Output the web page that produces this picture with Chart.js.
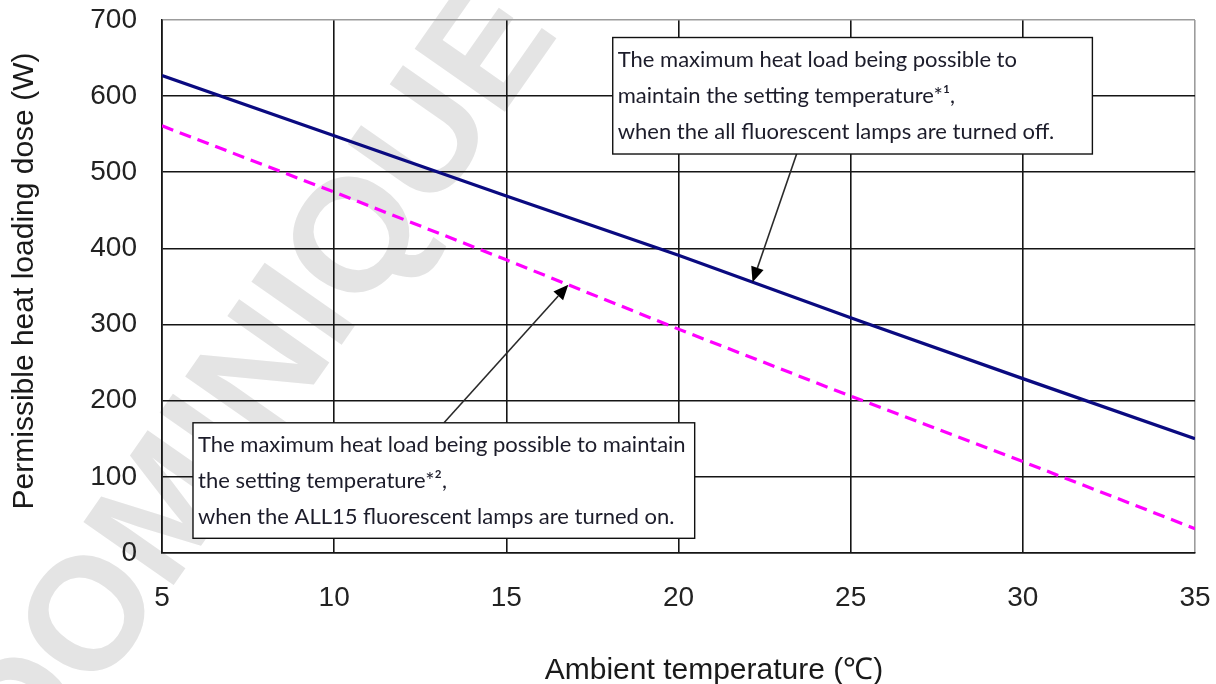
<!DOCTYPE html>
<html>
<head>
<meta charset="utf-8">
<script src="https://cdn.jsdelivr.net/npm/chart.js@4/dist/chart.umd.min.js"></script>
<style>
  html, body { margin: 0; padding: 0; background: #fff; }
  #wrap { width: 1216px; height: 684px; position: relative; }
</style>
</head>
<body>
<div id="wrap"><canvas id="c" width="1216" height="684"></canvas></div>
<script>
// Ambient temperature (°C) on the x axis
const temps = [5, 10, 15, 20, 25, 30, 35];
// Permissible heat load (W), all fluorescent lamps off
const loadLampsOff = [627, 548, 469, 391, 309, 229, 150];
// Permissible heat load (W), all 15 fluorescent lamps on
const loadLampsOn = [561, 474, 385, 294, 206, 120, 32];

const xTitle = 'Ambient temperature (℃)';
const yTitle = 'Permissible heat loading dose (W)';

const noteOffLines = [
  'The maximum heat load being possible to',
  'maintain the setting temperature*¹,',
  'when the all fluorescent lamps are turned off.'
];
const noteOnLines = [
  'The maximum heat load being possible to maintain',
  'the setting temperature*²,',
  'when the ALL15 fluorescent lamps are turned on.'
];

// Callout placement in data units: box [x0, yTop, x1, yBottom], arrow tail, arrow tip x
const callouts = [
  { lines: noteOffLines, box: [18.09, 677, 32.02, 524], tail: [23.43, 524], tipX: 22.15, series: loadLampsOff },
  { lines: noteOnLines,  box: [5.90, 171, 20.47, 19.3], tail: [13.19, 171], tipX: 16.80, series: loadLampsOn }
];

function valueAt(series, x) {
  for (let i = 0; i < temps.length - 1; i++) {
    if (x >= temps[i] && x <= temps[i + 1]) {
      const t = (x - temps[i]) / (temps[i + 1] - temps[i]);
      return series[i] + t * (series[i + 1] - series[i]);
    }
  }
  return series[series.length - 1];
}

function drawArrow(ctx, x0, y0, x1, y1) {
  const ang = Math.atan2(y1 - y0, x1 - x0);
  const len = 15, half = 6.5;
  const bx = x1 - len * Math.cos(ang), by = y1 - len * Math.sin(ang);
  ctx.strokeStyle = '#2a2a2a';
  ctx.lineWidth = 1.6;
  ctx.beginPath();
  ctx.moveTo(x0, y0);
  ctx.lineTo(bx, by);
  ctx.stroke();
  ctx.fillStyle = '#000';
  ctx.beginPath();
  ctx.moveTo(x1, y1);
  ctx.lineTo(bx + half * Math.sin(ang), by - half * Math.cos(ang));
  ctx.lineTo(bx - half * Math.sin(ang), by + half * Math.cos(ang));
  ctx.closePath();
  ctx.fill();
}

const decorPlugin = {
  id: 'decor',
  beforeDraw(chart) {
    const ctx = chart.ctx;
    ctx.save();
    ctx.fillStyle = '#fff';
    ctx.fillRect(0, 0, chart.width, chart.height);
    // diagonal watermark lettering
    ctx.font = 'bold 160px "Liberation Sans", Arial, sans-serif';
    const wD = ctx.measureText('D').width;
    const wO = ctx.measureText('O').width;
    ctx.translate(85, 612);
    ctx.rotate(-55 * Math.PI / 180);
    ctx.fillStyle = '#e4e4e4';
    ctx.textBaseline = 'alphabetic';
    ctx.fillText('DOMINIQUE', -(wD + wO / 2), 57);
    ctx.restore();
  },
  afterDatasetsDraw(chart) {
    const ctx = chart.ctx;
    const xs = chart.scales.x, ys = chart.scales.y;
    ctx.save();
    callouts.forEach(c => {
      const left = xs.getPixelForValue(c.box[0]);
      const top = ys.getPixelForValue(c.box[1]);
      const right = xs.getPixelForValue(c.box[2]);
      const bottom = ys.getPixelForValue(c.box[3]);
      // arrow from box edge to the curve
      const tipX = xs.getPixelForValue(c.tipX);
      const tipY = ys.getPixelForValue(valueAt(c.series, c.tipX));
      drawArrow(ctx, xs.getPixelForValue(c.tail[0]), ys.getPixelForValue(c.tail[1]), tipX, tipY);
      ctx.fillStyle = '#fff';
      ctx.fillRect(left, top, right - left, bottom - top);
      ctx.strokeStyle = '#111';
      ctx.lineWidth = 1.4;
      ctx.strokeRect(left, top, right - left, bottom - top);
      ctx.fillStyle = '#1c1c2a';
      ctx.font = '22px Lato, "Open Sans", sans-serif';
      ctx.textBaseline = 'alphabetic';
      ctx.textAlign = 'left';
      c.lines.forEach((ln, i) => ctx.fillText(ln, left + 5, top + 29 + i * 36));
    });
    // axis titles
    ctx.fillStyle = '#1a1a1a';
    ctx.font = '30px "Liberation Sans", Arial, sans-serif';
    ctx.textAlign = 'center';
    ctx.textBaseline = 'alphabetic';
    ctx.fillText(xTitle, 714, 679);
    ctx.save();
    ctx.translate(33, 281);
    ctx.rotate(-Math.PI / 2);
    ctx.fillText(yTitle, 0, 0);
    ctx.restore();
    ctx.restore();
  }
};

const tickFont = { family: '"Liberation Sans", Arial, sans-serif', size: 28 };

new Chart(document.getElementById('c'), {
  type: 'line',
  data: {
    labels: temps,
    datasets: [
      {
        data: temps.map((t, i) => ({ x: t, y: loadLampsOff[i] })),
        borderColor: '#0a0a80',
        borderWidth: 3.2,
        pointRadius: 0,
        tension: 0,
        fill: false
      },
      {
        data: temps.map((t, i) => ({ x: t, y: loadLampsOn[i] })),
        borderColor: '#ff00ff',
        borderWidth: 3.2,
        borderDash: [12, 7],
        pointRadius: 0,
        tension: 0,
        fill: false
      }
    ]
  },
  options: {
    responsive: false,
    animation: false,
    events: [],
    layout: { padding: { top: 20, right: 21, left: 0, bottom: 0 } },
    plugins: { legend: { display: false }, tooltip: { enabled: false } },
    scales: {
      x: {
        type: 'linear',
        min: 5, max: 35,
        afterFit(scale) {
          scale.height = 131;
          scale.paddingLeft = 0;
          scale.paddingRight = 0;
        },
        ticks: { stepSize: 5, font: tickFont, color: '#222', padding: 28, maxRotation: 0 },
        grid: {
          drawTicks: false,
          lineWidth: 1.6,
          color: ctx => (ctx.tick && ctx.tick.value === 35 ? '#9c9c9c' : '#151515')
        },
        border: { color: '#151515', width: 1.6 }
      },
      y: {
        min: 0, max: 700,
        afterFit(scale) {
          scale.width = 162;
          scale.paddingTop = 0;
          scale.paddingBottom = 0;
        },
        ticks: { stepSize: 100, font: tickFont, color: '#222', padding: 25 },
        grid: {
          drawTicks: false,
          lineWidth: 1.6,
          color: ctx => (ctx.tick && ctx.tick.value === 700 ? '#9c9c9c' : '#151515')
        },
        border: { color: '#151515', width: 1.6 }
      }
    }
  },
  plugins: [decorPlugin]
});
</script>
</body>
</html>
